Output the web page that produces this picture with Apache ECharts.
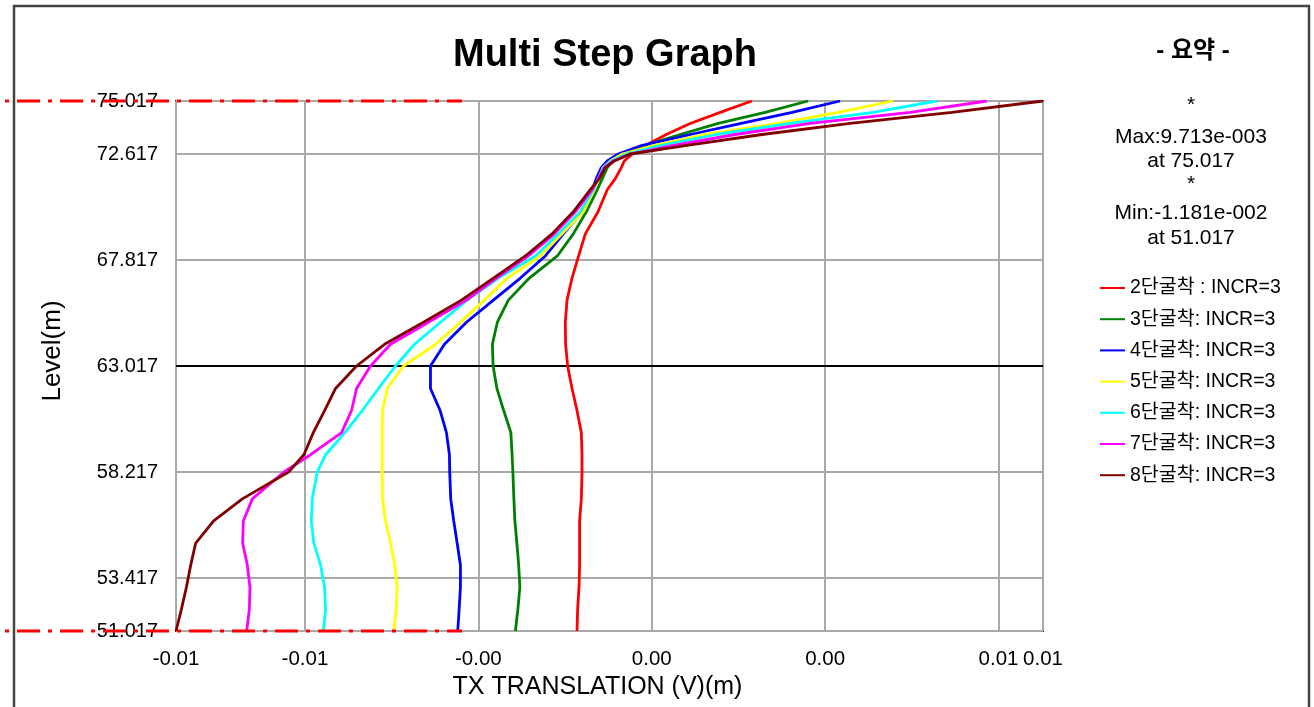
<!DOCTYPE html>
<html>
<head>
<meta charset="utf-8">
<script src="https://cdn.jsdelivr.net/npm/echarts@6/dist/echarts.min.js"></script>
<style>
html,body{margin:0;padding:0;background:#fff;}
#chart{width:1314px;height:707px;}
</style>
</head>
<body>
<div id="chart"></div>
<script>
// ---- data ----
const levels = [75.017, 74.5, 74.0, 73.5, 73.0, 72.617, 72.3, 72.0, 71.5, 71.0, 70.0, 69.0, 68.0, 67.0, 66.0, 65.0, 64.0, 63.017, 62.0, 61.0, 60.0, 59.0, 58.217, 57.0, 56.0, 55.0, 54.0, 53.0, 52.0, 51.017];

const stage2 = [0.002485, 0.001699, 0.000955, 0.000360, -0.000161, -0.000484, -0.000682, -0.000756, -0.000905, -0.001104, -0.001334, -0.001649, -0.001815, -0.001979, -0.002103, -0.002145, -0.002138, -0.002088, -0.001979, -0.001855, -0.001748, -0.001731, -0.001731, -0.001748, -0.001791, -0.001791, -0.001791, -0.001805, -0.001840, -0.001855];
const stage3 = [0.003881, 0.002815, 0.001649, 0.000707, -0.000186, -0.000732, -0.000980, -0.001104, -0.001228, -0.001352, -0.001624, -0.001947, -0.002344, -0.003038, -0.003559, -0.003832, -0.003956, -0.003938, -0.003844, -0.003675, -0.003497, -0.003467, -0.003447, -0.003422, -0.003398, -0.003348, -0.003303, -0.003274, -0.003323, -0.003385];
const stage4 = [0.004675, 0.003484, 0.002220, 0.000955, -0.000260, -0.000831, -0.001104, -0.001252, -0.001376, -0.001476, -0.001724, -0.002195, -0.002641, -0.003261, -0.003931, -0.004600, -0.005146, -0.005493, -0.005493, -0.005253, -0.005096, -0.005022, -0.005015, -0.004990, -0.004915, -0.004831, -0.004749, -0.004749, -0.004781, -0.004816];
const stage5 = [0.005989, 0.004625, 0.003137, 0.001327, 0.000037, -0.000732, -0.001029, -0.001203, -0.001327, -0.001426, -0.001699, -0.002227, -0.002765, -0.003591, -0.004154, -0.004749, -0.005369, -0.006163, -0.006567, -0.006684, -0.006691, -0.006691, -0.006691, -0.006684, -0.006609, -0.006485, -0.006379, -0.006319, -0.006344, -0.006403];
const stage6 = [0.007080, 0.005493, 0.003435, 0.001600, 0.000211, -0.000632, -0.001004, -0.001203, -0.001327, -0.001451, -0.001773, -0.002319, -0.002889, -0.003807, -0.004583, -0.005245, -0.005890, -0.006361, -0.006783, -0.007187, -0.007619, -0.008097, -0.008303, -0.008427, -0.008452, -0.008387, -0.008221, -0.008122, -0.008097, -0.008154];
const stage7 = [0.008320, 0.006411, 0.003931, 0.002071, 0.000508, -0.000533, -0.000955, -0.001178, -0.001327, -0.001476, -0.001897, -0.002418, -0.003063, -0.003856, -0.004600, -0.005543, -0.006485, -0.006981, -0.007328, -0.007452, -0.007700, -0.008469, -0.009131, -0.009915, -0.010138, -0.010156, -0.010039, -0.009975, -0.009989, -0.010056];
const stage8 = [0.009713, 0.007452, 0.004923, 0.002740, 0.000831, -0.000533, -0.000930, -0.001153, -0.001302, -0.001525, -0.001947, -0.002475, -0.003137, -0.003931, -0.004724, -0.005667, -0.006634, -0.007328, -0.007849, -0.008122, -0.008402, -0.008635, -0.009015, -0.010163, -0.010875, -0.011321, -0.011445, -0.011552, -0.011676, -0.011810];

const seriesNames = ['2단굴착 : INCR=3', '3단굴착: INCR=3', '4단굴착: INCR=3', '5단굴착: INCR=3', '6단굴착: INCR=3', '7단굴착: INCR=3', '8단굴착: INCR=3'];
const seriesValues = [stage2, stage3, stage4, stage5, stage6, stage7, stage8];
const seriesColors = ['#ff0000', '#008000', '#0000ff', '#ffff00', '#00ffff', '#ff00ff', '#800000'];

const xMin = -0.01181, xMax = 0.009713;
const xTicks = [-0.01181, -0.0086092, -0.0043046, 0, 0.0043046, 0.0086092, 0.009713];
const yMin = 51.017, yMax = 75.017;
const yTicks = [51.017, 53.417, 58.217, 63.017, 67.817, 72.617, 75.017];
const refLevel = 63.017;
const summaryLines = ['*', 'Max:9.713e-003', 'at 75.017', '*', 'Min:-1.181e-002', 'at 51.017'];

// ---- chart ----
const FONT = '"Liberation Sans", Arial, "Noto Sans CJK KR", sans-serif';
const chart = echarts.init(document.getElementById('chart'), null, {renderer: 'canvas'});

const series = seriesNames.map((name, i) => ({
  name: name,
  type: 'line',
  showSymbol: false,
  symbol: 'none',
  animation: false,
  data: levels.map((lv, k) => [seriesValues[i][k], lv]),
  lineStyle: {color: seriesColors[i], width: 2.8},
  itemStyle: {color: seriesColors[i]},
  z: 3 + i
}));
series[0].markLine = {
  silent: true,
  symbol: 'none',
  label: {show: false},
  lineStyle: {color: '#000', width: 2, type: 'solid'},
  data: [{yAxis: refLevel}],
  z: 2
};

const option = {
  animation: false,
  backgroundColor: '#ffffff',
  textStyle: {fontFamily: FONT},
  title: {
    text: 'Multi Step Graph',
    left: 600,
    textAlign: 'center',
    top: 32,
    textStyle: {fontFamily: FONT, fontSize: 38, fontWeight: 'bold', color: '#000'}
  },
  grid: {
    left: 176, right: 271, top: 101, bottom: 76,
    show: true, borderColor: '#222', borderWidth: 2, backgroundColor: '#fff',
    containLabel: false
  },
  legend: {
    orient: 'vertical',
    left: 1095,
    top: 273,
    icon: 'rect',
    itemWidth: 25,
    itemHeight: 2,
    itemGap: 11.2,
    selectedMode: false,
    data: seriesNames,
    textStyle: {
      fontFamily: FONT, fontSize: 19.5, color: '#000', lineHeight: 20,
      width: 156, overflow: 'truncate', ellipsis: ''
    }
  },
  xAxis: {
    type: 'value',
    min: xMin, max: xMax,
    name: 'TX TRANSLATION (V)(m)',
    nameLocation: 'middle',
    nameGap: 44,
    nameTextStyle: {fontFamily: FONT, fontSize: 25, color: '#000', padding: [0, 24, 0, 0]},
    axisLine: {show: false},
    axisTick: {show: false, customValues: xTicks},
    axisLabel: {
      customValues: xTicks,
      margin: 18,
      fontFamily: FONT, fontSize: 20.5, color: '#000',
      formatter: v => v.toFixed(2)
    },
    splitLine: {show: true, lineStyle: {color: '#a8a8a8', width: 2}}
  },
  yAxis: {
    type: 'value',
    min: yMin, max: yMax,
    name: 'Level(m)',
    nameLocation: 'middle',
    nameGap: 110,
    nameTextStyle: {fontFamily: FONT, fontSize: 26, color: '#000', padding: [0, 0, 0, 30]},
    axisLine: {show: false},
    axisTick: {show: false, customValues: yTicks},
    axisLabel: {
      customValues: yTicks,
      margin: 18,
      fontFamily: FONT, fontSize: 20, color: '#000',
      formatter: v => v.toFixed(3)
    },
    splitLine: {show: true, lineStyle: {color: '#a8a8a8', width: 2}}
  },
  series: series
};
chart.setOption(option);

// decorations: frame, summary panel, red dash-dot level markers
const yTop = chart.convertToPixel({yAxisIndex: 0}, yMax);
const yBot = chart.convertToPixel({yAxisIndex: 0}, yMin);
const summaryY = [105, 137, 161, 184, 213, 238];
const graphics = [
  {type: 'rect', shape: {x: 14, y: 6, width: 1295, height: 730}, style: {fill: null, stroke: '#444', lineWidth: 2.5}, z: 50, silent: true},
  {type: 'text', x: 1193, y: 51, style: {text: '- 요약 -', fontFamily: FONT, fontSize: 24, fontWeight: 'bold', fill: '#000', textAlign: 'center', textVerticalAlign: 'middle'}, z: 50}
];
summaryLines.forEach((t, i) => {
  graphics.push({type: 'text', x: 1191, y: summaryY[i], style: {text: t, fontFamily: FONT, fontSize: 21, fill: '#000', textAlign: 'center', textVerticalAlign: 'middle'}, z: 50});
});
[yTop, yBot].forEach(y => {
  graphics.push({type: 'line', shape: {x1: 5, y1: y, x2: 462, y2: y}, style: {stroke: '#ff0000', lineWidth: 3, lineDash: [4, 8, 23, 8]}, z: 60, silent: true});
});
chart.setOption({graphic: graphics});
</script>
</body>
</html>
